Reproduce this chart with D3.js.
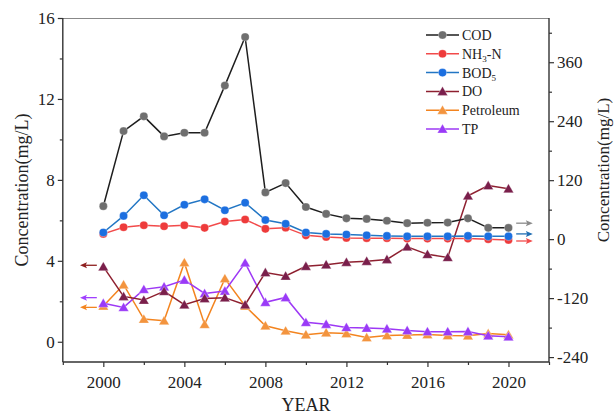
<!DOCTYPE html>
<html>
<head>
<meta charset="utf-8">
<script src="https://cdn.jsdelivr.net/npm/d3@7"></script>
<style>
  body { margin: 0; background: #fff; }
  svg text { font-family: "Liberation Serif", "Times New Roman", serif; fill: #222; }
</style>
</head>
<body>
<div id="chart"></div>
<script>
// data (mg/L)
const years = d3.range(2000, 2021);
const cod = [6.70, 10.41, 11.14, 10.15, 10.33, 10.33, 12.66, 15.06, 7.38, 7.84, 6.66,
  6.32, 6.10, 6.07, 5.98, 5.86, 5.88, 5.89, 6.10, 5.63, 5.63];
const nh3n = [5.33, 5.66, 5.76, 5.71, 5.76, 5.63, 5.94, 6.04, 5.58, 5.64, 5.26,
  5.18, 5.13, 5.12, 5.12, 5.10, 5.10, 5.10, 5.10, 5.07, 5.03];
const bod5 = [5.40, 6.22, 7.24, 6.25, 6.77, 7.04, 6.50, 6.87, 6.02, 5.83, 5.40,
  5.33, 5.30, 5.26, 5.23, 5.21, 5.21, 5.21, 5.23, 5.21, 5.21];
const dox = [3.71, 2.24, 2.06, 2.49, 1.83, 2.14, 2.18, 1.83, 3.42, 3.25, 3.73,
  3.81, 3.93, 3.98, 4.07, 4.69, 4.32, 4.17, 7.21, 7.72, 7.56];
const petroleum = [1.77, 2.82, 1.12, 1.04, 3.91, 0.86, 3.12, 1.77, 0.79, 0.54, 0.35,
  0.45, 0.41, 0.21, 0.31, 0.33, 0.36, 0.31, 0.30, 0.41, 0.35];
const tp = [1.90, 1.70, 2.59, 2.72, 3.05, 2.39, 2.51, 3.90, 1.95, 2.19, 0.96,
  0.87, 0.71, 0.68, 0.64, 0.56, 0.50, 0.50, 0.51, 0.30, 0.25];

const leftTicks = [0, 4, 8, 12, 16];
const rightTicks = [-240, -120, 0, 120, 240, 360];
const yearTicks = [2000, 2004, 2008, 2012, 2016, 2020];

// arrows pointing to the axes (left-axis units)
const arrowsLeft = [["DO", 3.78], ["TP", 2.18], ["Petroleum", 1.70]];
const arrowsRight = [["COD", 5.86], ["BOD5", 5.33], ["NH3-N", 4.98]];

const series = [
  {name: "COD", label: ["COD"], values: cod, line: "#1e1e1e", fill: "#6f6f6f", shape: "circle"},
  {name: "NH3-N", label: ["NH", "3", "-N"], values: nh3n, line: "#f24a4a", fill: "#ee3b3b", shape: "circle"},
  {name: "BOD5", label: ["BOD", "5"], values: bod5, line: "#2276c4", fill: "#1c6fe0", shape: "circle"},
  {name: "DO", label: ["DO"], values: dox, line: "#8e2030", fill: "#7a1f4b", shape: "triangle"},
  {name: "Petroleum", label: ["Petroleum"], values: petroleum, line: "#f3841f", fill: "#f3943e", shape: "triangle"},
  {name: "TP", label: ["TP"], values: tp, line: "#9d38f5", fill: "#9a3af7", shape: "triangle"}
];

const W = 614, H = 415;
const svg = d3.select("#chart").append("svg")
  .attr("width", W).attr("height", H);

const x = d3.scaleLinear().domain([1998, 2022]).range([62.8, 549]);
const y = d3.scaleLinear().domain([-1, 16]).range([362, 18]);
const y2 = d3.scaleLinear().domain([-250, 450]).range([362, 18]);

const axisColor = "#333";

// frame top line
svg.append("line")
  .attr("x1", x.range()[0]).attr("x2", x.range()[1])
  .attr("y1", 18.5).attr("y2", 18.5)
  .attr("stroke", "#888").attr("stroke-width", 1);

// left axis
const gl = svg.append("g").attr("transform", `translate(${x.range()[0]},0)`);
gl.call(d3.axisLeft(y).tickValues(d3.range(0, 17, 2)).tickSize(5)
  .tickFormat(d => leftTicks.includes(d) ? d : ""));
gl.selectAll(".tick").filter(d => !leftTicks.includes(d)).select("line").attr("x2", -3);

// right axis
const gr = svg.append("g").attr("transform", `translate(${x.range()[1]},0)`);
gr.call(d3.axisRight(y2).tickValues(d3.range(-240, 421, 60)).tickSize(5)
  .tickFormat(d => rightTicks.includes(d) ? d : ""));
gr.selectAll(".tick").filter(d => !rightTicks.includes(d)).select("line").attr("x2", 3);

// bottom axis
const gb = svg.append("g").attr("transform", `translate(0,${y.range()[0]})`);
gb.call(d3.axisBottom(x).tickValues(d3.range(1998, 2023, 2)).tickSize(5)
  .tickFormat(d => yearTicks.includes(d) ? d : ""));
gb.selectAll(".tick").filter(d => !yearTicks.includes(d)).select("line").attr("y2", 3);

[gl, gr, gb].forEach(g => {
  g.select(".domain").attr("stroke", axisColor).attr("stroke-width", 1.4);
  g.selectAll(".tick line").attr("stroke", axisColor).attr("stroke-width", 1.2);
  g.selectAll(".tick text").attr("font-size", 17)
    .attr("font-family", "Liberation Serif").attr("fill", "#222");
});
gl.select(".domain").attr("d", `M0,${y.range()[1]}V${y.range()[0]}`);
gr.select(".domain").attr("d", `M0,${y.range()[1]}V${y.range()[0]}`);
gb.select(".domain").attr("d", `M${x.range()[0]},0H${x.range()[1]}`);
gb.selectAll(".tick text").attr("dy", "1.05em");

// axis titles
svg.append("text")
  .attr("transform", `translate(28,${(y.range()[0] + y.range()[1]) / 2}) rotate(-90)`)
  .attr("text-anchor", "middle").attr("font-size", 18)
  .text("Concentration(mg/L)");
svg.append("text")
  .attr("transform", `translate(609,${(y.range()[0] + y.range()[1]) / 2 - 20}) rotate(-90)`)
  .attr("text-anchor", "middle").attr("font-size", 17)
  .text("Concentration(mg/L)");
svg.append("text")
  .attr("x", (x.range()[0] + x.range()[1]) / 2).attr("y", 411)
  .attr("text-anchor", "middle").attr("font-size", 18)
  .text("YEAR");

const tri = d3.symbol().type(d3.symbolTriangle).size(46);
const circ = d3.symbol().type(d3.symbolCircle).size(52);

function marker(sel, s) {
  sel.append("path")
    .attr("d", s.shape === "circle" ? circ() : tri())
    .attr("fill", s.fill)
    .attr("stroke", "#fff").attr("stroke-opacity", 0.5).attr("stroke-width", 0.6);
}

const line = d3.line().x((d, i) => x(years[i])).y(d => y(d));

// draw back-to-front
const order = ["Petroleum", "TP", "DO", "COD", "NH3-N", "BOD5"];
order.forEach(n => {
  const s = series.find(d => d.name === n);
  const g = svg.append("g");
  g.append("path").datum(s.values)
    .attr("d", line).attr("fill", "none")
    .attr("stroke", s.line).attr("stroke-width", 1.5);
  g.selectAll("g.pt").data(s.values).join("g")
    .attr("class", "pt")
    .attr("transform", (d, i) => `translate(${x(years[i])},${y(d) + (s.shape === "triangle" ? 1 : 0)})`)
    .each(function () { marker(d3.select(this), s); });
});

// arrows
function arrow(x0, x1, yy, color) {
  const dir = Math.sign(x1 - x0);
  svg.append("line")
    .attr("x1", x0).attr("x2", x1 - dir * 5)
    .attr("y1", yy).attr("y2", yy)
    .attr("stroke", color).attr("stroke-width", 1.3);
  svg.append("path")
    .attr("d", `M${x1},${yy}L${x1 - dir * 7},${yy - 3}L${x1 - dir * 5.5},${yy}L${x1 - dir * 7},${yy + 3}Z`)
    .attr("fill", color);
}
const arrowColor = {COD: "#8a8a8a", "NH3-N": "#f24a4a", BOD5: "#1f6db3",
  DO: "#8e1f1f", Petroleum: "#f3841f", TP: "#a040ff"};
arrowsLeft.forEach(([n, v]) => arrow(x(1999.68), x(1998.85), y(v), arrowColor[n]));
arrowsRight.forEach(([n, v]) => arrow(x(2020.38), x(2021.2), y(v), arrowColor[n]));

// legend
const lg = svg.append("g").attr("transform", "translate(426,35)");
series.forEach((s, i) => {
  const row = lg.append("g").attr("transform", `translate(0,${i * 18.8})`);
  row.append("line").attr("x1", 0).attr("x2", 33)
    .attr("stroke", s.line).attr("stroke-width", 1.5);
  const m = row.append("g").attr("transform", `translate(16.5,${s.shape === "triangle" ? 1 : 0})`);
  marker(m, s);
  const t = row.append("text").attr("x", 36).attr("y", 5).attr("font-size", 14);
  s.label.forEach((part, k) => {
    const sub = (s.name === "NH3-N" && k === 1) || (s.name === "BOD5" && k === 1);
    const ts = t.append("tspan").text(part);
    if (sub) ts.attr("font-size", 9).attr("dy", 3);
    else if (k > 0) ts.attr("dy", -3);
  });
});
</script>
</body>
</html>
